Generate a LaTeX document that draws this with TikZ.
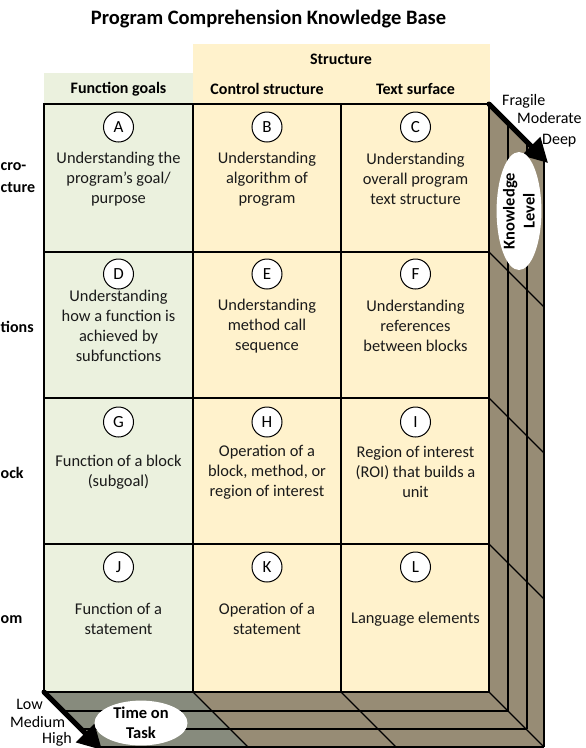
\documentclass[tikz,border=0pt]{standalone}
\usepackage{fontspec}
\setmainfont{Carlito}
\usetikzlibrary{shapes.geometric,arrows.meta}

\definecolor{cellgreen}{HTML}{EBF1DE}
\definecolor{cellyellow}{HTML}{FFF2CC}
\definecolor{sidebrown}{HTML}{978C75}
\definecolor{bottomgray}{HTML}{878B7D}
\definecolor{txt}{HTML}{1A1A1A}

\begin{document}
\begin{tikzpicture}[x=1pt,y=-1pt,
  gridline/.style={draw=black,line width=1.2pt},
  celltext/.style={align=center,font=\fontsize{16.4}{20}\selectfont,text=txt,inner sep=0pt},
  letter/.style={circle,draw=black,line width=1pt,fill=white,minimum size=30pt,inner sep=0pt,font=\fontsize{17}{20}\selectfont},
  header/.style={font=\bfseries\fontsize{16}{20}\selectfont,inner sep=0pt},
  sidelabel/.style={font=\bfseries\fontsize{16}{20}\selectfont,inner sep=0pt,anchor=west},
  scalelabel/.style={font=\fontsize{16}{20}\selectfont,inner sep=0pt},
  bigarrow/.style={line width=5pt,line cap=round,-{Triangle[length=24pt,width=25pt]}},
  oval/.style={ellipse,fill=white,inner sep=0pt,font=\bfseries\fontsize{16.5}{20}\selectfont,align=center}
]
\useasboundingbox (0,0) rectangle (586,748);
\clip (0,0) rectangle (586,748);

% title
\node[font=\bfseries\fontsize{20.5}{24}\selectfont,inner sep=0pt] (title) at (268.5,19) {Program Comprehension Knowledge Base};

% header backgrounds
\fill[cellyellow] (193,44) rectangle (490,104);
\fill[cellgreen] (44,73) rectangle (193,104);
\node[header] (hstruct) at (341,59) {Structure};
\node[header] (hfg) at (118.5,89) {Function goals};
\node[header] (hcs) at (267,89) {Control structure};
\node[header] (hts) at (415.5,89) {Text surface};

% cell backgrounds
\fill[cellgreen] (44,104) rectangle (193,692);
\fill[cellyellow] (193,104) rectangle (489,692);

% side and bottom faces
\fill[sidebrown] (489,104) -- (544,159) -- (544,747) -- (489,692) -- cycle;
\fill[sidebrown] (44,692) -- (489,692) -- (544,747) -- (99,747) -- cycle;
\fill[bottomgray] (44,692) -- (193,692) -- (248,747) -- (99,747) -- cycle;

% front grid
\draw[gridline] (44,104) rectangle (489,692);
\draw[gridline] (193,104) -- (193,692);
\draw[gridline] (341,104) -- (341,692);
\draw[gridline] (44,252) -- (489,252);
\draw[gridline] (44,398) -- (489,398);
\draw[gridline] (44,544) -- (489,544);

% side lines
\draw[gridline] (508,123) -- (508,711);
\draw[gridline] (527,142) -- (527,729);
\draw[gridline] (544,159) -- (544,747);
\draw[gridline] (489,252) -- (544,307);
\draw[gridline] (489,398) -- (544,453);
\draw[gridline] (489,544) -- (544,599);
\draw[gridline] (489,692) -- (544,747);

% bottom lines
\draw[gridline] (63,711) -- (508,711);
\draw[gridline] (81,729) -- (527,729);
\draw[gridline] (99,747) -- (544,747);
\draw[gridline] (193,692) -- (248,747);
\draw[gridline] (341,692) -- (396,747);

% arrows
\coordinate (frontTR) at (489,104);
\coordinate (deepTR) at (548,163);
\coordinate (frontBL) at (44,692);
\coordinate (deepBL) at (102,750);
\draw[bigarrow] (frontTR) -- (deepTR);
\draw[bigarrow] (frontBL) -- (deepBL);

% ovals
\node[oval,rotate=90,minimum width=118pt,minimum height=42pt] (klevel) at (519,211) {Knowledge\\Level};
\node[oval,minimum width=93pt,minimum height=40pt] (tot) at (141,723) {Time on\\Task};

% scale labels
\node[scalelabel,anchor=west] (fragile) at (502,101) {Fragile};
\node[scalelabel,anchor=west] (moderate) at (517,118) {Moderate};
\node[scalelabel,anchor=west] (deep) at (542,141) {Deep};
\node[scalelabel,anchor=east] (low) at (43,704) {Low};
\node[scalelabel,anchor=west] (medium) at (10,722) {Medium};
\node[scalelabel,anchor=west] (high) at (42,739.5) {High};

% row labels (cut off at the left edge in the reference)
\node[sidelabel] (lmacroa) at (0.5,167) {cro-};
\node[sidelabel] (lmacrob) at (0.5,188) {cture};
\node[sidelabel] (lfunc) at (0.5,327) {tions};
\node[sidelabel] (lblock) at (0.5,473) {ock};
\node[sidelabel] (latom) at (0.5,620) {om};

% cells row 1
\node[letter] (cA) at (118.5,127) {A};
\node[letter] (cB) at (267,127) {B};
\node[letter] (cC) at (415.5,127) {C};
\node[celltext] (tA) at (118.5,179) {Understanding the\\program’s goal/\\purpose};
\node[celltext] (tB) at (267,179) {Understanding\\algorithm of\\program};
\node[celltext] (tC) at (415.5,179) {Understanding\\overall program\\text structure};

% row 2
\node[letter] (cD) at (118.5,274) {D};
\node[letter] (cE) at (267,274) {E};
\node[letter] (cF) at (415.5,274) {F};
\node[celltext] (tD) at (118.5,326) {Understanding\\how a function is\\achieved by\\subfunctions};
\node[celltext] (tE) at (267,326) {Understanding\\method call\\sequence};
\node[celltext] (tF) at (415.5,326) {Understanding\\references\\between blocks};

% row 3
\node[letter] (cG) at (118.5,422) {G};
\node[letter] (cH) at (267,422) {H};
\node[letter] (cI) at (415.5,422) {I};
\node[celltext] (tG) at (118.5,472) {Function of a block\\(subgoal)};
\node[celltext] (tH) at (267,472) {Operation of a\\block, method, or\\region of interest};
\node[celltext] (tI) at (415.5,472) {Region of interest\\(ROI) that builds a\\unit};

% row 4
\node[letter] (cJ) at (118.5,567) {J};
\node[letter] (cK) at (267,567) {K};
\node[letter] (cL) at (415.5,567) {L};
\node[celltext] (tJ) at (118.5,619) {Function of a\\statement};
\node[celltext] (tK) at (267,619) {Operation of a\\statement};
\node[celltext] (tL) at (415.5,619) {Language elements};
\end{tikzpicture}
\end{document}
